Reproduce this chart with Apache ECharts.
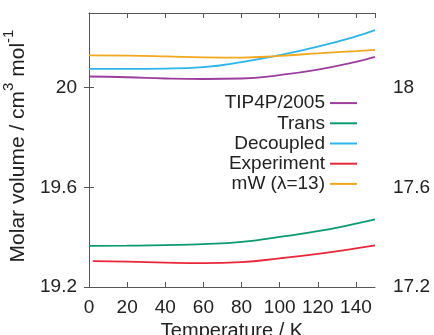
<!DOCTYPE html>
<html><head><meta charset="utf-8">
<script src="https://cdn.jsdelivr.net/npm/echarts@6/dist/echarts.min.js"></script>
<style>html,body{margin:0;padding:0;background:#fff}#c{width:434px;height:335px}</style>
</head><body><div id="c"></div>
<script>
const temps = [0, 20, 40, 60, 80, 100, 120, 140, 150];
const tempsExp = [2, 20, 40, 60, 80, 100, 120, 140, 150];
const tip4p = [20.045, 20.042, 20.037, 20.035, 20.037, 20.051, 20.073, 20.104, 20.124];
const trans = [19.365, 19.366, 19.368, 19.372, 19.381, 19.401, 19.424, 19.454, 19.471];
const decoupled = [20.076, 20.076, 20.077, 20.083, 20.103, 20.131, 20.165, 20.206, 20.231];
const experiment = [19.304, 19.302, 19.298, 19.296, 19.300, 19.315, 19.333, 19.355, 19.367];
const mW = [20.130, 20.129, 20.126, 20.122, 20.121, 20.128, 20.138, 20.147, 20.152];
const leftTicks = { min: 19.2, max: 20.3, interval: 0.4 };
const rightTicks = { min: 17.2, max: 18.3, interval: 0.4 };
const xTicks = { min: 0, max: 150, interval: 20 };

const names = ['TIP4P/2005', 'Trans', 'Decoupled', 'Experiment', 'mW (\u03bb=13)'];
const colors = ['#9b3d9c', '#0a9a72', '#2cb5ea', '#e8283a', '#f2a81d'];
const sets = [[temps, tip4p], [temps, trans], [temps, decoupled], [tempsExp, experiment], [temps, mW]];

const font = 'Liberation Sans, Arial, sans-serif';
const axisCol = '#555';
const chart = echarts.init(document.getElementById('c'), null, { renderer: 'canvas' });
const baseX = {
  type: 'value', min: xTicks.min, max: xTicks.max, interval: xTicks.interval,
  axisLine: { lineStyle: { color: axisCol, width: 1 } },
  axisTick: { inside: true, length: 5, lineStyle: { color: axisCol } },
  splitLine: { show: false }
};
const baseY = {
  type: 'value', interval: 0.4,
  axisLine: { show: true, lineStyle: { color: axisCol, width: 1 } },
  axisTick: { show: true, inside: true, length: 5, lineStyle: { color: axisCol } },
  splitLine: { show: false }
};
chart.setOption({
  animation: false,
  backgroundColor: '#fff',
  grid: { left: 89, right: 59, top: 13, bottom: 48, containLabel: false, outerBoundsMode: 'none' },
  xAxis: [
    Object.assign({}, baseX, {
      position: 'bottom',
      name: 'Temperature / K', nameLocation: 'middle', nameGap: 32,
      nameTextStyle: { fontFamily: font, fontSize: 20, color: '#222' },
      axisLabel: { fontFamily: font, fontSize: 19, color: '#222', margin: 11, showMaxLabel: false }
    }),
    Object.assign({}, baseX, { position: 'top', axisLabel: { show: false } })
  ],
  yAxis: [
    Object.assign({}, baseY, {
      position: 'left', min: leftTicks.min, max: leftTicks.max, interval: leftTicks.interval,
      name: '{n|Molar volume / cm}{s|3}{n| mol}{s|-1}', nameLocation: 'middle', nameGap: 51,
      nameTextStyle: {
        fontFamily: font, fontSize: 21, color: '#222', padding: [0, 0, 0, 8],
        rich: {
          n: { fontFamily: font, fontSize: 21, color: '#222', lineHeight: 28, verticalAlign: 'bottom' },
          s: { fontFamily: font, fontSize: 15, color: '#222', lineHeight: 28, verticalAlign: 'top' }
        }
      },
      axisLabel: { fontFamily: font, fontSize: 19, color: '#222', margin: 12, showMaxLabel: false }
    }),
    Object.assign({}, baseY, {
      position: 'right', min: rightTicks.min, max: rightTicks.max, interval: rightTicks.interval,
      axisLabel: { fontFamily: font, fontSize: 19, color: '#222', margin: 18, showMaxLabel: false }
    })
  ],
  legend: {
    orient: 'vertical', right: 72, top: 88, align: 'right',
    icon: 'rect', itemWidth: 27, itemHeight: 2, itemGap: 0,
    textStyle: { fontFamily: font, fontSize: 19, color: '#222', lineHeight: 20.2 },
    data: names
  },
  series: sets.map((s, i) => ({
    name: names[i], type: 'line', xAxisIndex: 0, yAxisIndex: 0,
    smooth: true, showSymbol: false, symbol: 'none',
    lineStyle: { color: colors[i], width: 1.8 }, itemStyle: { color: colors[i] },
    data: s[0].map((t, k) => [t, s[1][k]])
  }))
});
</script></body></html>
